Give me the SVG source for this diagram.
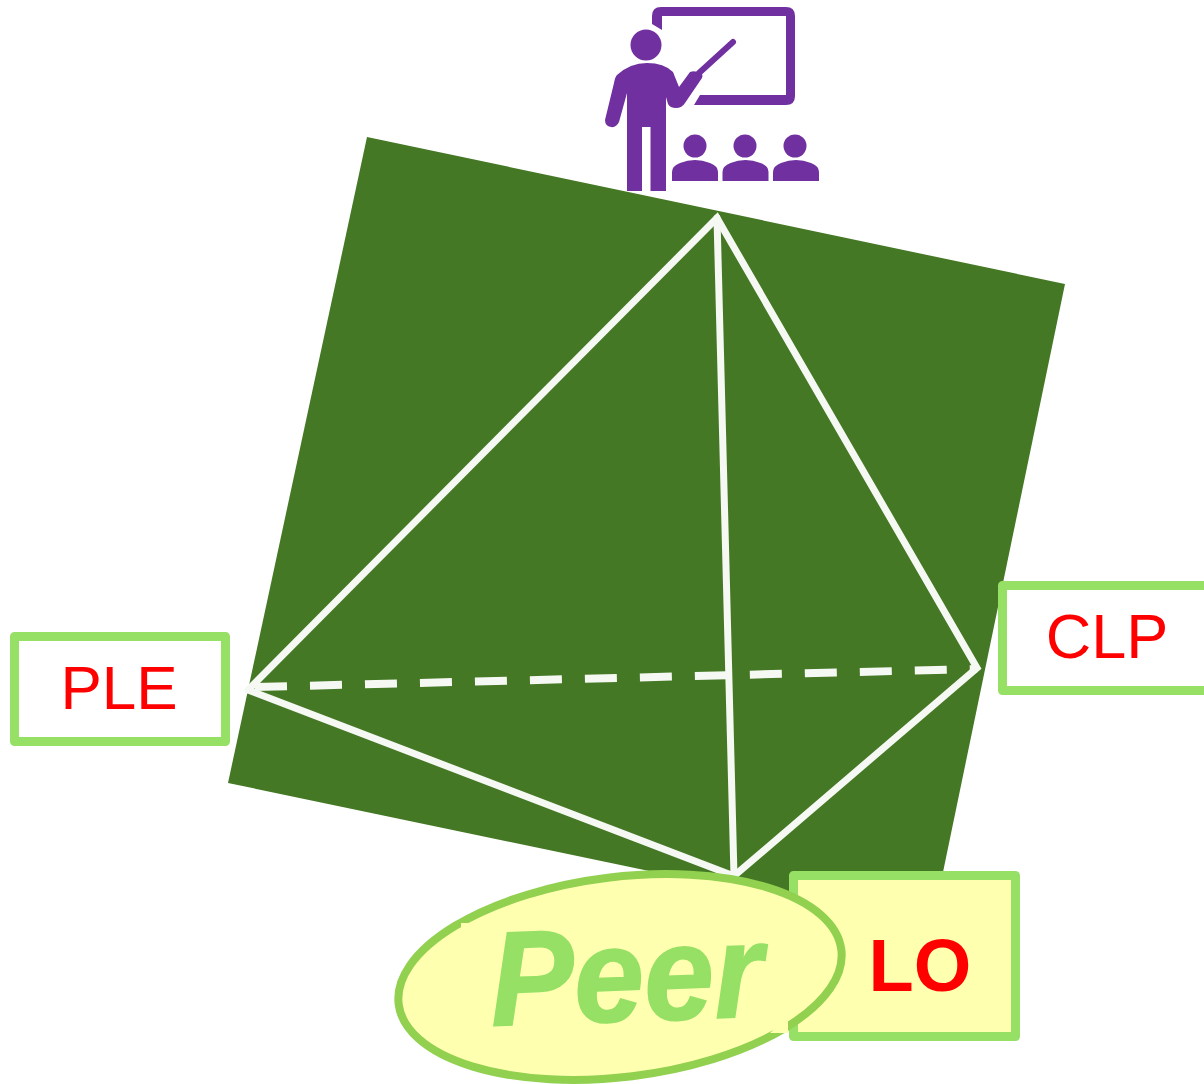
<svg xmlns="http://www.w3.org/2000/svg" width="1204" height="1084" viewBox="0 0 1204 1084">
<style>
.box{stroke:#95e065;stroke-width:9;stroke-linejoin:round}
.edge{fill:none;stroke:#f6f8f3;stroke-width:7;stroke-linecap:round}
.lbl{font-family:"Liberation Sans",Arial,sans-serif;fill:#ff0000;text-anchor:middle}
.ic{fill:#7030a0}
</style>
<rect width="1204" height="1084" fill="#ffffff"/>
<polygon id="plane" points="367,137 1065,284 931,930 228,783" fill="#457825"/>
<g id="icon">
<path class="ic" d="M652 24V16Q652 7 661 7H786Q795 7 795 16V96Q795 105 786 105H694L700 95H786V16H662V30Z"/>
<circle class="ic" cx="646" cy="45" r="15.500"/>
<path class="ic" d="M617 75Q630 63 647 63Q664 63 673 72L679 87L690 72Q696 70 702 74Q703 76 702 78L685 103Q682 108 676 108Q670 108 668 104L666 97V191H650.500V127H642V191H627V93L619 122Q616 128 611 127Q605 126 605 120L614 83Q615 77 617 75Z"/>
<path d="M699 73L733 42" stroke="#7030a0" stroke-width="6" stroke-linecap="round" fill="none"/>
<g id="audience">
<circle class="ic" cx="695" cy="146" r="11.500"/><circle class="ic" cx="745" cy="146" r="11.500"/><circle class="ic" cx="795" cy="146" r="11.500"/>
<path class="ic" d="M672 181V172Q672 166 680 163Q695 157 710 163Q718 166 718 172V181Z"/>
<path class="ic" d="M722.500 181V172Q722.500 166 730.500 163Q745.500 157 760.500 163Q768.500 166 768.500 172V181Z"/>
<path class="ic" d="M773 181V172Q773 166 781 163Q796 157 811 163Q819 166 819 172V181Z"/>
</g>
</g>
<g id="connectors">
<path class="edge" d="M248 690L717 218L977 668L734 876L248 690"/>
<path class="edge" d="M717 218L734 876"/>
<path class="edge" style="stroke-linecap:butt;stroke-width:8" stroke-dasharray="32 23" d="M255 687L977 669"/>
</g>
<g id="ple"><rect class="box" x="14.500" y="636.500" width="211" height="105" fill="#fff"/><text class="lbl" x="119" y="709" font-size="62">PLE</text></g>
<g id="clp"><rect class="box" x="1002.500" y="585.500" width="220" height="105" fill="#fff"/><text class="lbl" x="1107" y="658" font-size="63">CLP</text></g>
<g id="lo"><rect class="box" x="793.500" y="875.500" width="222" height="161" fill="#ffffb0"/><text class="lbl" x="920" y="991" font-size="74" font-weight="700">LO</text></g>
<g id="peer"><ellipse cx="620" cy="977" rx="223" ry="100" transform="rotate(-7 620 977)" fill="#ffffb0" stroke="#92d050" stroke-width="8"/>
<polygon points="461,923 473,923 466,929 461,929" fill="#ffffb0"/>
<polygon points="770,1033 788,1033 788,1021 780,1024" fill="#ffffb0"/>
<text transform="translate(628 1021) rotate(-2) scale(1.03 1.1)" font-family="'Liberation Sans',Arial,sans-serif" font-size="122" font-weight="700" font-style="italic" fill="#95e065" stroke="#95e065" stroke-width="1.500" text-anchor="middle">Peer</text></g>
</svg>
